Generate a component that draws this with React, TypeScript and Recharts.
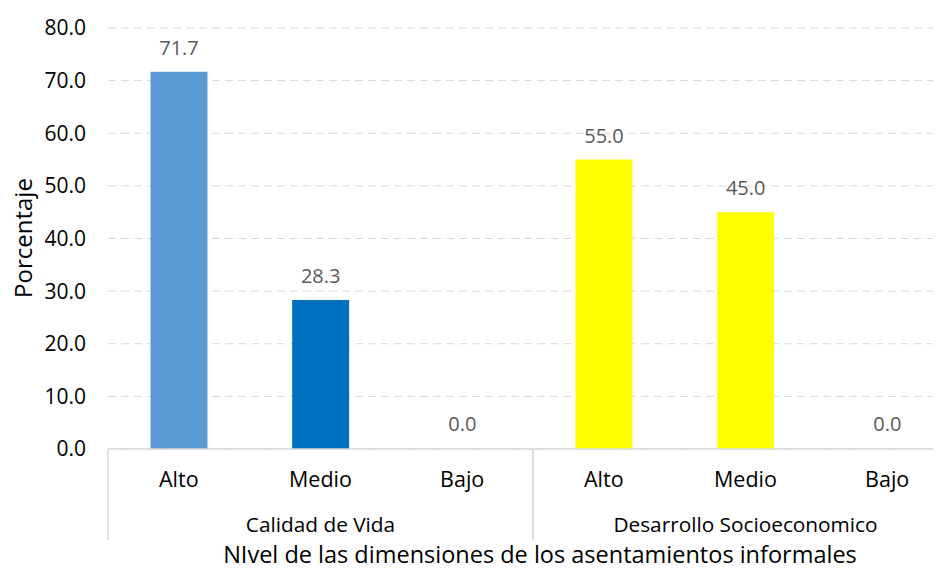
import { Bar, BarChart, CartesianGrid, Cell, Label, LabelList, XAxis, YAxis } from 'recharts';

const niveles = ['Alto', 'Medio', 'Bajo', 'Alto', 'Medio', 'Bajo'];
const dimensiones = [
  'Calidad de Vida',
  'Calidad de Vida',
  'Calidad de Vida',
  'Desarrollo Socioeconomico',
  'Desarrollo Socioeconomico',
  'Desarrollo Socioeconomico',
];
const porcentajes = [71.7, 28.3, 0.0, 55.0, 45.0, 0.0];
const yTicks = [0, 10, 20, 30, 40, 50, 60, 70, 80];

const barColors = ['#5B9BD5', '#0070C0', '#5B9BD5', '#FFFF00', '#FFFF00', '#FFFF00'];
const FONT = '"Open Sans", sans-serif';
const GRID = '#D9D9D9';

const data = niveles.map((nivel, i) => ({
  key: `${dimensiones[i]}-${nivel}`,
  nivel,
  dimension: dimensiones[i],
  valor: porcentajes[i],
}));

function CategoryTick(props: any) {
  const { x, y, index, payload } = props;
  const half = payload?.offset ?? 70;
  const row = data[index];
  const first = index === 0 || dimensiones[index - 1] !== row.dimension;
  const last = index === data.length - 1 || dimensiones[index + 1] !== row.dimension;
  const groupSize = dimensiones.filter((d) => d === row.dimension).length;
  const posInGroup = index - dimensiones.indexOf(row.dimension);
  const isMiddle = posInGroup === Math.floor(groupSize / 2);
  return (
    <g>
      <text x={x} y={y + 30} dy="0.35em" textAnchor="middle" fill="#000" fontSize={21.5} fontFamily={FONT}>
        {row.nivel}
      </text>
      {isMiddle && (
        <text x={x} y={y + 76} dy="0.35em" textAnchor="middle" fill="#000" fontSize={20.8} fontFamily={FONT}>
          {row.dimension}
        </text>
      )}
      {first && <line x1={x - half} x2={x - half} y1={y} y2={y + 91} stroke={GRID} strokeWidth={1.5} />}
      {last && <line x1={x + half} x2={x + half} y1={y} y2={y + 91} stroke={GRID} strokeWidth={1.5} />}
    </g>
  );
}

export default function App() {
  return (
    <div style={{ margin: -8, width: 941, height: 572, overflow: 'hidden', background: '#fff' }}>
      <BarChart
        width={960}
        height={572}
        data={data}
        margin={{ top: 28, right: 2, left: 0, bottom: 0 }}
        barCategoryGap="30%"
      >
        <CartesianGrid vertical={false} stroke={GRID} strokeDasharray="8 5" />
        <XAxis
          dataKey="key"
          height={123}
          interval={0}
          tickSize={0}
          tickMargin={0}
          tickLine={false}
          axisLine={{ stroke: GRID, strokeWidth: 1.5 }}
          tick={<CategoryTick />}
        >
          <Label
            content={() => (
              <text
                x={540}
                y={554}
                textAnchor="middle"
                dominantBaseline="central"
                fill="#000"
                fontSize={23.5}
                fontFamily={FONT}
              >
                NIvel de las dimensiones de los asentamientos informales
              </text>
            )}
          />
        </XAxis>
        <YAxis
          width={108}
          domain={[0, 80]}
          ticks={yTicks}
          tickFormatter={(v: number) => v.toFixed(1)}
          axisLine={false}
          tickLine={false}
          tickMargin={16}
          tick={{ fill: '#000', fontSize: 21, fontFamily: FONT }}
        >
          <Label
            content={() => (
              <text
                transform="translate(22,238) rotate(-90)"
                textAnchor="middle"
                dominantBaseline="central"
                fill="#000"
                fontSize={24}
                fontFamily={FONT}
              >
                Porcentaje
              </text>
            )}
          />
        </YAxis>
        <Bar
          dataKey="valor"
          isAnimationActive={false}
          minPointSize={(v: any) => (Number(v) === 0 ? 1 : 0)}
        >
          {data.map((d, i) => (
            <Cell key={d.key} fill={d.valor === 0 ? 'transparent' : barColors[i]} />
          ))}
          <LabelList
            dataKey="valor"
            position="top"
            offset={17}
            formatter={(v: any) => Number(v).toFixed(1)}
            fill="#595959"
            fontSize={20}
            fontFamily={FONT}
          />
        </Bar>
      </BarChart>
    </div>
  );
}
